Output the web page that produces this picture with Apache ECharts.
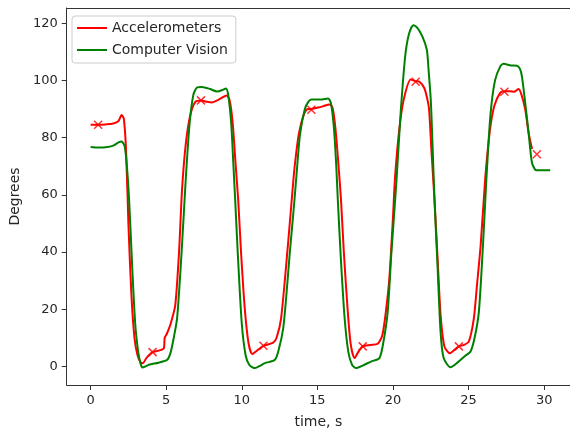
<!DOCTYPE html>
<html>
<head>
<meta charset="utf-8">
<title>Accelerometers vs Computer Vision</title>
<script src="https://cdn.jsdelivr.net/npm/echarts@6/dist/echarts.min.js"></script>
<style>
  html, body { margin: 0; padding: 0; background: #ffffff; }
  #chart { width: 570px; height: 434px; }
</style>
</head>
<body>
<div id="chart"></div>
<script>
// Joint angle over time: [time in s, angle in degrees]
const accelerometers = [
  [0.0, 84.5], [0.5, 84.5], [1.0, 84.6], [1.5, 84.9], [1.85, 85.8], [2.05, 87.9], [2.2, 86.5],
  [2.35, 75], [2.5, 50], [2.7, 25], [2.9, 10], [3.1, 4], [3.3, 1.5], [3.45, 1.1], [3.7, 3],
  [4.1, 5], [4.5, 5.5], [4.85, 6.4], [4.9, 10], [5.05, 11.5], [5.3, 15], [5.6, 21.4],
  [5.85, 40], [6.05, 62], [6.3, 78], [6.6, 88], [6.93, 92.5], [7.3, 93], [7.7, 92.5],
  [8.03, 92.3], [8.45, 93.2], [9.0, 94.7], [9.2, 93], [9.4, 85], [9.6, 70], [9.76, 58.5],
  [9.95, 40], [10.2, 20], [10.45, 8], [10.7, 4.3], [11.0, 5.5], [11.43, 7.2], [12.08, 8.3],
  [12.3, 10], [12.6, 16.8], [13.05, 42.3], [13.3, 58], [13.5, 70], [13.8, 82], [14.28, 89.8],
  [14.6, 90], [15.04, 90.5], [15.4, 91], [15.8, 91.6], [16.0, 90.5], [16.2, 83], [16.4, 70],
  [16.56, 58.5], [16.75, 40], [17.0, 20], [17.2, 8], [17.46, 2.9], [17.7, 5], [18.0, 7],
  [18.5, 7.5], [18.99, 7.9], [19.3, 11], [19.55, 20], [19.76, 30.7], [20.0, 52], [20.13, 65.5],
  [20.4, 82], [20.7, 93], [21.18, 100.3], [21.5, 99.7], [21.75, 99.5], [22.06, 97.4],
  [22.25, 94], [22.39, 89.8], [22.55, 75], [22.75, 58], [22.95, 38], [23.15, 18], [23.4, 7],
  [23.77, 4.6], [24.0, 5.5], [24.36, 7], [24.7, 7.5], [25.02, 8.7], [25.35, 16.8], [25.55, 28],
  [25.8, 42.3], [26.1, 65.5], [26.4, 82], [26.7, 91], [27.1, 95.7], [27.37, 96.2], [27.76, 96.2],
  [28.0, 96], [28.31, 97], [28.5, 95], [28.75, 89.8], [28.97, 81.7], [29.2, 76]
];

const computerVision = [
  [0.0, 76.7], [0.5, 76.5], [1.0, 76.6], [1.5, 77.2], [1.85, 78.3], [2.05, 78.6], [2.25, 77],
  [2.4, 70], [2.55, 58], [2.75, 35], [2.95, 15], [3.15, 5], [3.3, 1], [3.42, -0.4], [3.6, -0.1],
  [3.86, 0.6], [4.5, 1.3], [5.07, 2.3], [5.3, 5], [5.5, 10], [5.72, 16.8], [5.95, 34],
  [6.15, 52], [6.3, 66], [6.55, 85], [6.8, 95], [7.04, 97.5], [7.37, 97.7], [7.9, 97],
  [8.36, 96.1], [8.7, 96.6], [8.95, 97.2], [9.1, 95], [9.3, 85], [9.45, 70], [9.56, 58.5],
  [9.75, 38], [10.0, 15], [10.25, 4], [10.5, 0.5], [10.88, -0.6], [11.2, 0.2], [11.53, 1.15],
  [12.19, 2.3], [12.45, 6], [12.74, 13.3], [12.95, 25], [13.18, 40], [13.45, 56], [13.62, 67],
  [13.85, 81], [14.17, 90], [14.4, 92.5], [14.6, 93.3], [15.2, 93.3], [15.7, 93.7], [15.9, 92],
  [16.1, 83], [16.25, 70], [16.35, 58.5], [16.55, 38], [16.8, 17], [17.05, 5], [17.3, 0.5],
  [17.57, -0.6], [18.0, 0.3], [18.55, 1.7], [19.1, 2.9], [19.35, 8], [19.65, 19], [19.9, 40],
  [20.24, 65.5], [20.5, 88], [20.8, 108], [21.05, 116], [21.35, 119.3], [21.6, 118.4],
  [21.95, 115.3], [22.24, 110.7], [22.35, 104], [22.5, 93.3], [22.6, 80], [22.75, 58],
  [22.95, 35], [23.15, 12], [23.35, 3], [23.8, -0.3], [24.3, 1.5], [24.8, 3.8], [25.13, 5.2],
  [25.4, 10], [25.68, 19], [25.95, 42], [26.18, 65.5], [26.45, 88], [26.75, 100], [27.1, 104.9],
  [27.32, 105.8], [27.8, 105.2], [28.2, 105.1], [28.4, 104], [28.53, 101.4], [28.75, 92],
  [28.97, 81.7], [29.19, 71.3], [29.4, 68.8], [29.52, 68.6], [30.4, 68.6]
];

// Accelerometer sample points drawn as crosses
const accelMarkers = [
  [0.5, 84.5], [4.1, 5], [7.3, 93], [11.43, 7.2], [14.6, 89.7],
  [18.0, 7], [21.5, 99.5], [24.36, 7], [27.37, 96], [29.52, 74.2]
];

const xTicks = [0, 5, 10, 15, 20, 25, 30];
const yTicks = [0, 20, 40, 60, 80, 100, 120];

const chart = echarts.init(document.getElementById('chart'), null, { renderer: 'canvas' });

const axisColor = '#333333';
const labelColor = '#262626';
const fontFamily = 'DejaVu Sans';
const xMin = -1.58, xMax = 31.71;

chart.setOption({
  animation: false,
  backgroundColor: '#ffffff',
  textStyle: { fontFamily: fontFamily },
  grid: { left: 64, right: 0, top: 8, bottom: 47 },
  legend: {
    orient: 'vertical',
    left: 72, top: 16,
    data: ['Accelerometers', 'Computer Vision'],
    icon: 'rect',
    itemWidth: 30, itemHeight: 2, itemGap: 6,
    padding: [4, 8, 5, 5],
    borderColor: '#cccccc', borderWidth: 1, borderRadius: 3,
    backgroundColor: 'rgba(255,255,255,0.8)',
    textStyle: { fontSize: 14, color: labelColor, fontFamily: fontFamily, lineHeight: 16 }
  },
  xAxis: [
    {
      type: 'value',
      min: xMin, max: xMax,
      name: 'time, s',
      nameLocation: 'middle',
      nameGap: 30,
      nameTextStyle: { fontSize: 14, color: labelColor, fontFamily: fontFamily },
      splitLine: { show: false },
      axisLine: { show: true, onZero: false, lineStyle: { color: axisColor, width: 1 } },
      axisTick: { show: true, inside: false, length: 5, customValues: xTicks, lineStyle: { color: axisColor } },
      axisLabel: { customValues: xTicks, fontSize: 13, color: labelColor, margin: 9, fontFamily: fontFamily }
    },
    {
      // top frame line
      type: 'value',
      position: 'top',
      min: xMin, max: xMax,
      splitLine: { show: false },
      axisLine: { show: true, onZero: false, lineStyle: { color: axisColor, width: 1 } },
      axisTick: { show: false },
      axisLabel: { show: false }
    }
  ],
  yAxis: {
    type: 'value',
    min: -6.5, max: 125.3,
    name: 'Degrees',
    nameLocation: 'middle',
    nameGap: 42,
    nameRotate: 90,
    nameTextStyle: { fontSize: 14, color: labelColor, fontFamily: fontFamily },
    splitLine: { show: false },
    axisLine: { show: true, onZero: false, lineStyle: { color: axisColor, width: 1 } },
    axisTick: { show: true, inside: false, length: 5, customValues: yTicks, lineStyle: { color: axisColor } },
    axisLabel: { customValues: yTicks, fontSize: 13, color: labelColor, margin: 9, fontFamily: fontFamily }
  },
  series: [
    {
      name: 'Accelerometers',
      type: 'line',
      data: accelerometers,
      symbol: 'none',
      smooth: 0.25,
      color: '#ff0000',
      lineStyle: { color: '#ff0000', width: 2 },
      z: 2
    },
    {
      name: 'Computer Vision',
      type: 'line',
      data: computerVision,
      symbol: 'none',
      smooth: 0.25,
      color: '#008000',
      lineStyle: { color: '#008000', width: 2 },
      z: 3
    },
    {
      type: 'scatter',
      data: accelMarkers,
      symbol: 'path://M0,0L10,10M10,0L0,10',
      symbolSize: 8,
      itemStyle: { color: 'transparent', borderColor: '#ff0000', borderWidth: 1.5 },
      z: 4
    }
  ]
});
</script>
</body>
</html>
